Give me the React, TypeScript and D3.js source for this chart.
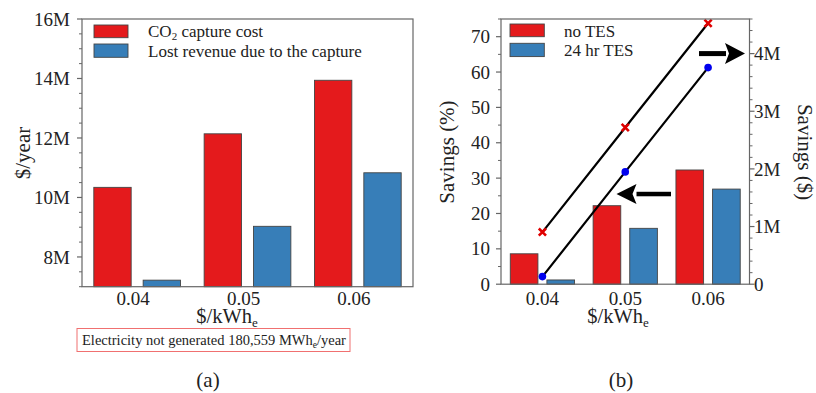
import React from "react";
import * as d3 from "d3";

// ---- Panel (a): annual cost of capture vs. electricity price ----
const prices = ["0.04", "0.05", "0.06"];
const captureCost = [10.34e6, 12.14e6, 13.94e6];
const lostRevenue = [7.22e6, 9.03e6, 10.83e6];
const costMajorTicks = [8e6, 10e6, 12e6, 14e6, 16e6];
const costDomain = [7e6, 16e6];

// ---- Panel (b): savings with and without thermal energy storage ----
const pctNoTES = [8.6, 22.2, 32.3];
const pctTES = [1.2, 15.8, 26.9];
const usdNoTES = [0.904e6, 2.718e6, 4.527e6];
const usdTES = [0.132e6, 1.948e6, 3.757e6];
const pctMajorTicks = [0, 10, 20, 30, 40, 50, 60, 70];
const usdMajorTicks = [0, 1e6, 2e6, 3e6, 4e6];
const pctDomain = [0, 75];
const usdDomain = [0, 4.6e6];

const RED = "#e41a1c";
const BLUE = "#377eb8";
const FRAME = "#666";
const INK = "#222";
const FONT = "Liberation Serif, DejaVu Serif, Times New Roman, serif";

const fmtM = (v: number) => (v === 0 ? "0" : `${d3.format("~g")(v / 1e6)}M`);

function Arrow({ x1, x2, y, shaft, headLen, headHalf }: { x1: number; x2: number; y: number; shaft: number; headLen: number; headHalf: number }) {
  // x2 is the tip; works for either direction
  const dir = Math.sign(x2 - x1);
  const base = x2 - dir * headLen;
  return (
    <g fill="#000">
      <rect x={Math.min(x1, base)} y={y - shaft / 2} width={Math.abs(base - x1) + 1} height={shaft} />
      <path d={`M${x2},${y} L${base},${y - headHalf} L${base + dir * 4},${y} L${base},${y + headHalf} Z`} />
    </g>
  );
}

export default function App() {
  // Panel (a) layout
  const A = { x0: 82, x1: 413, y0: 19, y1: 286.7 };
  const xA = d3.scalePoint<string>().domain(prices).range([A.x0, A.x1]).padding(0.5);
  const subA = d3
    .scaleBand<string>()
    .domain(["cost", "lost"])
    .range([-xA.step() * 0.393, xA.step() * 0.393])
    .paddingInner(0.243);
  const yA = d3.scaleLinear().domain(costDomain).range([A.y1, A.y0]);
  const minorA = d3.range(costDomain[0], costDomain[1] + 1, 0.5e6).filter((v) => !costMajorTicks.includes(v));

  // Panel (b) layout
  const B = { x0: 501, x1: 749.5, y0: 19, y1: 284.2 };
  const xB = d3.scalePoint<string>().domain(prices).range([B.x0, B.x1]).padding(0.5);
  const subB = d3
    .scaleBand<string>()
    .domain(["noTES", "TES"])
    .range([-xB.step() * 0.388, xB.step() * 0.388])
    .paddingInner(0.245);
  const yPct = d3.scaleLinear().domain(pctDomain).range([B.y1, B.y0]);
  const yUsd = d3.scaleLinear().domain(usdDomain).range([B.y1, B.y0]);
  const minorPct = d3.range(5, 76, 10);
  const minorUsd = d3.range(0, 4.61e6, 0.2e6).filter((v) => Math.abs(v / 1e6 - Math.round(v / 1e6)) > 1e-6);

  const lineUsd = d3
    .line<number>()
    .x((_, i) => xB(prices[i]) as number)
    .y((d) => yUsd(d));

  const barStroke = { stroke: "#444", strokeWidth: 0.9 };

  return (
    <svg
      width={816}
      height={393}
      style={{ position: "absolute", left: 0, top: 0, background: "#fff", fontFamily: FONT }}
      fill={INK}
    >
      {/* ================= Panel (a) ================= */}
      <g>
        {prices.map((p, i) => {
          const cx = xA(p) as number;
          return (
            <g key={p}>
              <rect
                x={cx + (subA("cost") as number)}
                y={yA(captureCost[i])}
                width={subA.bandwidth()}
                height={yA(costDomain[0]) - yA(captureCost[i])}
                fill={RED}
                {...barStroke}
              />
              <rect
                x={cx + (subA("lost") as number)}
                y={yA(lostRevenue[i])}
                width={subA.bandwidth()}
                height={yA(costDomain[0]) - yA(lostRevenue[i])}
                fill={BLUE}
                {...barStroke}
              />
            </g>
          );
        })}
        <rect x={A.x0} y={A.y0} width={A.x1 - A.x0} height={A.y1 - A.y0} fill="none" stroke={FRAME} strokeWidth={1.2} />
        {costMajorTicks.map((t) => (
          <g key={t}>
            <line x1={A.x0 - 5} x2={A.x0} y1={yA(t)} y2={yA(t)} stroke={FRAME} strokeWidth={1.2} />
            <text x={A.x0 - 12} y={yA(t)} dy="0.35em" textAnchor="end" fontSize={19}>
              {fmtM(t)}
            </text>
          </g>
        ))}
        {minorA.map((t) => (
          <line key={t} x1={A.x0 - 3} x2={A.x0} y1={yA(t)} y2={yA(t)} stroke={FRAME} strokeWidth={1} />
        ))}
        {prices.map((p) => (
          <text key={p} x={(xA(p) as number) - 4} y={305} textAnchor="middle" fontSize={19}>
            {p}
          </text>
        ))}
        <text x={227} y={323} textAnchor="middle" fontSize={20.5}>
          $/kWh<tspan fontSize={13} dy={4}>e</tspan>
        </text>
        <text transform="translate(30,153) rotate(-90)" textAnchor="middle" fontSize={21}>
          $/year
        </text>

        {/* legend */}
        <rect x={94} y={25} width={34} height={12.7} fill={RED} {...barStroke} />
        <rect x={94} y={44} width={34} height={13.3} fill={BLUE} {...barStroke} />
        <text x={148} y={37.3} fontSize={17}>
          CO<tspan fontSize={11} dy={3}>2</tspan>
          <tspan dy={-3}> capture cost</tspan>
        </text>
        <text x={148} y={56.5} fontSize={17}>
          Lost revenue due to the capture
        </text>

        {/* note box */}
        <rect x={77} y={328.5} width={273} height={23} fill="#fff" stroke="#f07070" strokeWidth={1} />
        <text x={82} y={345} fontSize={14.5}>
          Electricity not generated 180,559 MWh<tspan fontSize={9.5} dy={3}>e</tspan>
          <tspan dy={-3}>/year</tspan>
        </text>

        <text x={208} y={387} textAnchor="middle" fontSize={21}>
          (a)
        </text>
      </g>

      {/* ================= Panel (b) ================= */}
      <g>
        {prices.map((p, i) => {
          const cx = xB(p) as number;
          return (
            <g key={p}>
              <rect
                x={cx + (subB("noTES") as number)}
                y={yPct(pctNoTES[i])}
                width={subB.bandwidth()}
                height={yPct(0) - yPct(pctNoTES[i])}
                fill={RED}
                {...barStroke}
              />
              <rect
                x={cx + (subB("TES") as number)}
                y={yPct(pctTES[i])}
                width={subB.bandwidth()}
                height={yPct(0) - yPct(pctTES[i])}
                fill={BLUE}
                {...barStroke}
              />
            </g>
          );
        })}

        {/* dollar savings lines */}
        <path d={lineUsd(usdNoTES) as string} fill="none" stroke="#000" strokeWidth={2.2} />
        <path d={lineUsd(usdTES) as string} fill="none" stroke="#000" strokeWidth={2.2} />
        {usdNoTES.map((v, i) => {
          const cx = xB(prices[i]) as number;
          const cy = yUsd(v);
          const s = 3.6;
          return (
            <path
              key={i}
              d={`M${cx - s},${cy - s}L${cx + s},${cy + s}M${cx - s},${cy + s}L${cx + s},${cy - s}`}
              stroke="#e00000"
              strokeWidth={2.6}
              fill="none"
            />
          );
        })}
        {usdTES.map((v, i) => (
          <circle key={i} cx={xB(prices[i]) as number} cy={yUsd(v)} r={3.8} fill="#0000ee" />
        ))}

        <rect x={B.x0} y={B.y0} width={B.x1 - B.x0} height={B.y1 - B.y0} fill="none" stroke={FRAME} strokeWidth={1.2} />
        {pctMajorTicks.map((t) => (
          <g key={t}>
            <line x1={B.x0 - 5} x2={B.x0} y1={yPct(t)} y2={yPct(t)} stroke={FRAME} strokeWidth={1.2} />
            <text x={B.x0 - 11} y={yPct(t)} dy="0.35em" textAnchor="end" fontSize={19}>
              {t}
            </text>
          </g>
        ))}
        {minorPct.map((t) => (
          <line key={t} x1={B.x0 - 3} x2={B.x0} y1={yPct(t)} y2={yPct(t)} stroke={FRAME} strokeWidth={1} />
        ))}
        {usdMajorTicks.map((t) => (
          <g key={t}>
            <line x1={B.x1} x2={B.x1 + 5} y1={yUsd(t)} y2={yUsd(t)} stroke={FRAME} strokeWidth={1.2} />
            <text x={B.x1 + 4.5} y={yUsd(t)} dy="0.35em" textAnchor="start" fontSize={19}>
              {fmtM(t)}
            </text>
          </g>
        ))}
        {minorUsd.map((t) => (
          <line key={t} x1={B.x1} x2={B.x1 + 3} y1={yUsd(t)} y2={yUsd(t)} stroke={FRAME} strokeWidth={1} />
        ))}
        {prices.map((p) => (
          <text key={p} x={xB(p) as number} y={305} textAnchor="middle" fontSize={19}>
            {p}
          </text>
        ))}
        <text x={618} y={323} textAnchor="middle" fontSize={20.5}>
          $/kWh<tspan fontSize={13} dy={4}>e</tspan>
        </text>
        <text transform="translate(454,152) rotate(-90)" textAnchor="middle" fontSize={21}>
          Savings (%)
        </text>
        <text transform="translate(798,152) rotate(90)" textAnchor="middle" fontSize={21}>
          Savings ($)
        </text>

        {/* arrows: which axis each series is read from */}
        <Arrow x1={699} x2={745} y={yUsd(4e6)} shaft={5} headLen={20} headHalf={10.5} />
        <Arrow x1={670} x2={616.5} y={yPct(25.5)} shaft={4.5} headLen={20} headHalf={10} />

        {/* legend */}
        <rect x={510} y={24} width={34.3} height={12.7} fill={RED} {...barStroke} />
        <rect x={510} y={43.3} width={34.3} height={13.3} fill={BLUE} {...barStroke} />
        <text x={564} y={36.5} fontSize={17}>
          no TES
        </text>
        <text x={564} y={55.8} fontSize={17}>
          24 hr TES
        </text>

        <text x={621} y={387} textAnchor="middle" fontSize={21}>
          (b)
        </text>
      </g>
    </svg>
  );
}
